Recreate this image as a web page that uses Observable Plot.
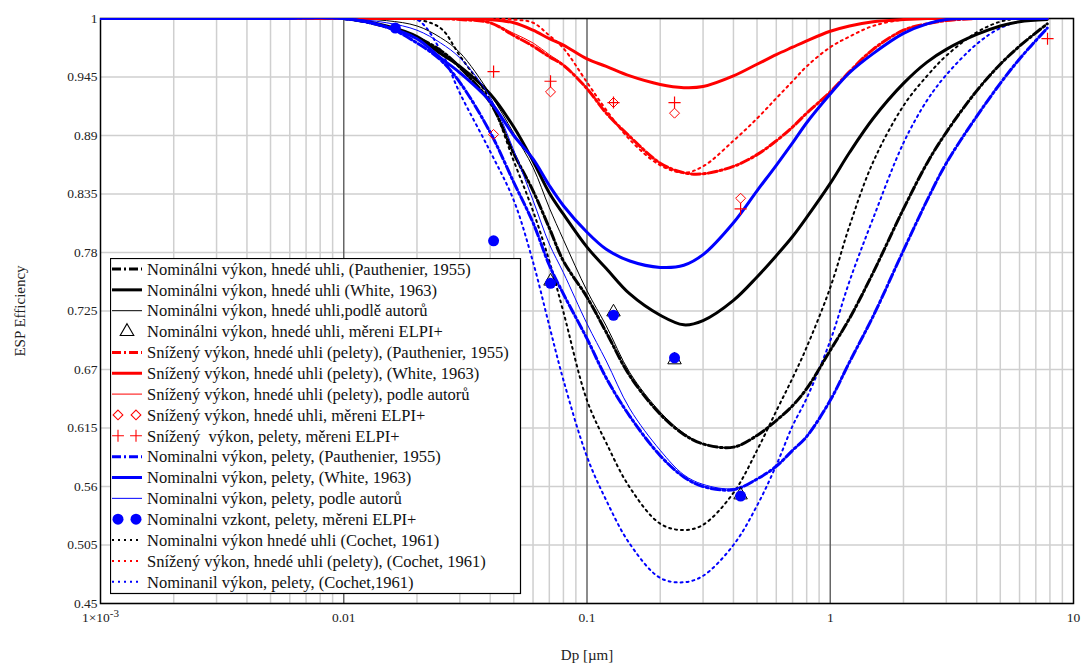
<!DOCTYPE html>
<html><head><meta charset="utf-8">
<script src="https://cdn.jsdelivr.net/npm/d3@7"></script>
<script src="https://cdn.jsdelivr.net/npm/@observablehq/plot@0.6"></script>
<style>
body{margin:0;background:#fff;}
#wrap{position:relative;width:1083px;height:664px;}
#legend{position:absolute;left:110px;top:258px;}
</style></head><body><div id="wrap"></div>
<script>
// particle diameter grid [µm]
const dp = [0.001,0.005,0.01,0.015,0.02,0.025,0.03,0.04,0.05,0.06,0.07,0.08,0.1,0.12,0.15,0.2,0.25,0.3,0.4,0.5,0.6,0.7,0.8,1,1.2,1.5,2,2.5,3,4,5,6,7.8];
// Nominal, brown coal
const bkPauthenier = [1,1,1,0.992,0.982,0.970,0.954,0.921,0.873,0.838,0.803,0.772,0.738,0.705,0.664,0.628,0.609,0.600,0.597,0.608,0.622,0.636,0.652,0.688,0.718,0.761,0.821,0.864,0.893,0.932,0.957,0.974,0.995];
const bkWhite = [1,1,1,0.993,0.983,0.967,0.955,0.929,0.898,0.866,0.836,0.816,0.785,0.765,0.741,0.721,0.712,0.716,0.735,0.757,0.777,0.795,0.813,0.845,0.874,0.906,0.939,0.959,0.971,0.985,0.993,0.997,0.999];
const bkAutor = [1,1,1,0.998,0.993,0.982,0.968,0.929,0.892,0.860,0.822,0.792,0.744,0.711,0.667,0.630,0.610,0.600,0.597,0.608,0.622,0.636,0.652,0.688,0.718,0.761,0.821,0.864,0.893,0.932,0.957,0.974,0.995];
const bkCochet = [1,1,1,1,0.999,0.991,0.965,0.923,0.866,0.819,0.772,0.724,0.641,0.601,0.559,0.525,0.519,0.524,0.554,0.594,0.631,0.662,0.691,0.747,0.805,0.865,0.918,0.946,0.965,0.987,0.997,1,1];
// Reduced, brown coal (pellets)
const rdPauthenier = [1,1,1,1,1,1,0.999,0.996,0.984,0.974,0.964,0.956,0.934,0.911,0.889,0.864,0.855,0.854,0.861,0.872,0.885,0.898,0.911,0.931,0.950,0.971,0.989,0.995,0.998,1,1,1,1];
const rdWhite = [1,1,1,1,1,1,1,0.999,0.996,0.989,0.981,0.975,0.962,0.955,0.946,0.938,0.935,0.936,0.946,0.957,0.966,0.973,0.979,0.988,0.993,0.997,0.999,1,1,1,1,1,1];
const rdAutor = [1,1,1,1,1,1,0.999,0.996,0.986,0.977,0.966,0.957,0.935,0.912,0.889,0.864,0.855,0.854,0.861,0.872,0.885,0.898,0.911,0.931,0.950,0.971,0.989,0.995,0.998,1,1,1,1];
const rdCochet = [1,1,1,1,1,1,1,1,0.999,0.996,0.984,0.972,0.940,0.914,0.886,0.862,0.855,0.861,0.885,0.906,0.925,0.941,0.955,0.973,0.983,0.993,0.999,1,1,1,1,1,1];
// Nominal, pellets
const blPauthenier = [1,1,1,0.992,0.977,0.961,0.940,0.893,0.846,0.808,0.768,0.741,0.699,0.662,0.626,0.589,0.569,0.560,0.557,0.567,0.579,0.594,0.607,0.641,0.677,0.720,0.782,0.829,0.864,0.908,0.939,0.962,0.991];
const blWhite = [1,1,1,0.992,0.981,0.963,0.949,0.922,0.890,0.868,0.843,0.824,0.799,0.783,0.772,0.766,0.768,0.778,0.808,0.838,0.862,0.883,0.902,0.929,0.949,0.967,0.986,0.995,0.999,1,1,1,1];
const blAutor = [1,1,1,0.996,0.989,0.977,0.963,0.926,0.876,0.829,0.788,0.761,0.713,0.678,0.633,0.594,0.571,0.562,0.558,0.567,0.579,0.594,0.607,0.641,0.677,0.720,0.782,0.829,0.864,0.908,0.939,0.962,0.991];
const blCochet = [1,1,1,1,0.999,0.970,0.930,0.875,0.829,0.771,0.711,0.660,0.588,0.547,0.506,0.474,0.470,0.476,0.505,0.542,0.580,0.617,0.643,0.697,0.753,0.812,0.883,0.923,0.947,0.976,0.991,0.997,1];
// ELPI+ measurements
const triD = [0.0708,0.1285,0.229,0.428];
const triE = [0.753,0.724,0.679,0.552];
const diaD = [0.0413,0.0708,0.1285,0.229,0.428];
const diaE = [0.891,0.931,0.921,0.911,0.831];
const plusD = [0.0413,0.0708,0.1285,0.229,0.428,7.82];
const plusE = [0.950,0.941,0.921,0.921,0.821,0.981];
const dotD = [0.0163,0.0413,0.0708,0.1285,0.229,0.428];
const dotE = [0.991,0.791,0.751,0.721,0.681,0.551];
// axes
const yTicks = [0.45,0.505,0.56,0.615,0.67,0.725,0.78,0.835,0.89,0.945,1];
const xTicks = [0.001,0.01,0.1,1,10];
const xTickLabels = ["1×10^-3","0.01","0.1","1","10"];
const xMajor = [0.01,0.1,1];
const xMinor = [0.002,0.003,0.004,0.005,0.006,0.007,0.008,0.009,0.02,0.03,0.04,0.05,0.06,0.07,0.08,0.09,0.2,0.3,0.4,0.5,0.6,0.7,0.8,0.9,2,3,4,5,6,7,8,9];

const legendLabels = [
 "Nominálni výkon, hnedé uhli, (Pauthenier, 1955)",
 "Nominálni výkon, hnedé uhli (White, 1963)",
 "Nominálni výkon, hnedé uhli,podlě autorů",
 "Nominálni výkon, hnedé uhli, měreni ELPI+",
 "Snížený výkon, hnedé uhli (pelety), (Pauthenier, 1955)",
 "Snížený výkon, hnedé uhli (pelety), (White, 1963)",
 "Snížený výkon, hnedé uhli (pelety), podle autorů",
 "Snížený výkon, hnedé uhli, měreni ELPI+",
 "Snížený  výkon, pelety, měreni ELPI+",
 "Nominalni výkon, pelety, (Pauthenier, 1955)",
 "Nominalni výkon, pelety, (White, 1963)",
 "Nominalni výkon, pelety, podle autorů",
 "Nominalni vzkont, pelety, měreni ELPI+",
 "Nominalni výkon hnedé uhli (Cochet, 1961)",
 "Snížený výkon, hnedé uhli (pelety), (Cochet, 1961)",
 "Nominanil výkon, pelety, (Cochet,1961)"
];

// styles
const FONT = "'Liberation Serif', 'Times New Roman', 'DejaVu Serif', serif";
const BLACK="#000000", RED="#ff0000", BLUE="#0000ff";
const DASHDOT="9,3,2,3", DOTTED="2,4";
const lineDefs = [
 {vals:bkCochet, color:BLACK, w:2, dash:DOTTED, leg:13},
 {vals:rdCochet, color:RED, w:2, dash:DOTTED, leg:14},
 {vals:blCochet, color:BLUE, w:2, dash:DOTTED, leg:15},
 {vals:bkAutor, color:BLACK, w:1, dash:null, leg:2},
 {vals:bkWhite, color:BLACK, w:3, dash:null, leg:1},
 {vals:bkPauthenier, color:BLACK, w:3, dash:DASHDOT, leg:0},
 {vals:rdAutor, color:RED, w:1, dash:null, leg:6},
 {vals:rdPauthenier, color:RED, w:3, dash:DASHDOT, leg:4},
 {vals:rdWhite, color:RED, w:3, dash:null, leg:5},
 {vals:blAutor, color:BLUE, w:1, dash:null, leg:11},
 {vals:blPauthenier, color:BLUE, w:3, dash:DASHDOT, leg:9},
 {vals:blWhite, color:BLUE, w:3, dash:null, leg:10}
];

const toRows = (xs, ys) => xs.map((x,i)=>({x, y: ys[i]}));

const marks = [
  Plot.ruleX(xMinor, {stroke:"#cfcfcf", strokeWidth:1.5}),
  Plot.ruleY(yTicks, {stroke:"#cfcfcf", strokeWidth:1.5}),
  Plot.ruleX(xMajor, {stroke:"#666666", strokeWidth:1.5}),
  Plot.frame({stroke:"#000", strokeWidth:1.5}),
  Plot.axisY({ticks: yTicks, tickSize:0, tickPadding:3, tickFormat: d => String(d), fontSize:13.5, label:null}),
  Plot.axisX({ticks: xTicks, tickSize:0, tickPadding:9, tickFormat: d => xTickLabels[xTicks.indexOf(d)], fontSize:13.5, label:null}),
  Plot.text(["ESP Efficiency"], {frameAnchor:"left", dx:-80, rotate:-90, textAnchor:"middle", fontSize:15, fill:"#222"}),
  Plot.text(["Dp [µm]"], {frameAnchor:"bottom", dy:52, lineAnchor:"middle", fontSize:15, fill:"#222"})
];
for (const L of lineDefs) {
  marks.push(Plot.line(toRows(dp, L.vals), {x:"x", y:"y", stroke:L.color, strokeWidth:L.w, strokeDasharray:L.dash || undefined, curve:"catmull-rom", clip:true}));
}
marks.push(
  Plot.dot(toRows(triD, triE), {x:"x", y:"y", symbol:"triangle", r:5, stroke:"#000", fill:"none", strokeWidth:1}),
  Plot.dot(toRows(diaD, diaE), {x:"x", y:"y", symbol:"diamond2", r:4.5, stroke:RED, fill:"none", strokeWidth:1}),
  Plot.dot(toRows(plusD, plusE), {x:"x", y:"y", symbol:"plus", r:4, stroke:RED, strokeWidth:1.2}),
  Plot.dot(toRows(dotD, dotE), {x:"x", y:"y", r:5.5, fill:BLUE, stroke:"none"})
);

const chart = Plot.plot({
  width:1083, height:664,
  marginLeft:100, marginRight:10, marginTop:18, marginBottom:61,
  style:{fontFamily:FONT, color:"#222", background:"#fff", overflow:"visible"},
  x:{type:"log", domain:[0.001,10], axis:null},
  y:{domain:[0.45,1], axis:null},
  marks
});
document.getElementById("wrap").appendChild(chart);

// superscript in the 1×10^-3 label
d3.select(chart).selectAll("text").each(function(){
  const t = this.textContent;
  if (t.includes("^")) {
    const [base, sup] = t.split("^");
    const sel = d3.select(this);
    sel.text(null);
    sel.append("tspan").text(base);
    sel.append("tspan").attr("dy","-0.45em").attr("font-size","11px").text(sup);
  }
});

// legend
const LW = 410, LH = 335, rowH = 20.85, top0 = 11;
const leg = d3.select("#wrap").append("svg").attr("id","legend").attr("width",LW+2).attr("height",LH+2);
leg.append("rect").attr("x",0.5).attr("y",0.5).attr("width",LW).attr("height",LH).attr("fill","#fff").attr("stroke","#000").attr("stroke-width",1.2);
const legStyle = [];
for (const L of lineDefs) legStyle[L.leg] = {type:"line", color:L.color, w:L.w, dash:L.dash};
legStyle[3] = {type:"sym", sym:d3.symbolTriangle, size:80, stroke:"#000", fill:"none", n:1};
legStyle[7] = {type:"sym", sym:d3.symbolDiamond2, size:60, stroke:RED, fill:"none", n:2};
legStyle[8] = {type:"sym", sym:d3.symbolPlus, size:48, stroke:RED, fill:"none", n:2};
legStyle[12] = {type:"sym", sym:d3.symbolCircle, size:95, stroke:"none", fill:BLUE, n:2};
legendLabels.forEach((lab, i) => {
  const cy = top0 + i*rowH;
  const s = legStyle[i];
  if (s.type === "line") {
    leg.append("line").attr("x1",2).attr("x2",32).attr("y1",cy).attr("y2",cy)
      .attr("stroke",s.color).attr("stroke-width",s.w).attr("stroke-dasharray",s.dash || null);
  } else {
    const xs = s.n === 1 ? [17] : [8, 26];
    xs.forEach(x => leg.append("path").attr("d", d3.symbol(s.sym, s.size)()).attr("transform",`translate(${x},${cy})`)
      .attr("fill",s.fill).attr("stroke",s.stroke).attr("stroke-width",1.1));
  }
  leg.append("text").attr("x",37).attr("y",cy).attr("dy","0.35em")
    .attr("font-family",FONT).attr("font-size",16.5).attr("fill","#111")
    .text(lab).style("white-space","pre");
});
</script></body></html>
